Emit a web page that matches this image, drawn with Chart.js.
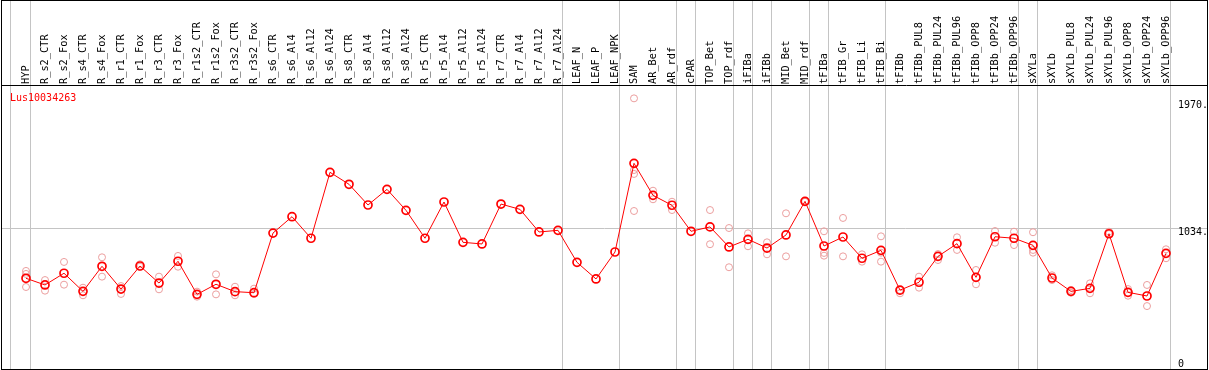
<!DOCTYPE html>
<html>
<head>
<meta charset="utf-8">
<script src="https://cdn.jsdelivr.net/npm/chart.js@4"></script>
<style>
  html, body { margin: 0; padding: 0; background: #ffffff; }
  #frame { position: absolute; left: 1px; top: 0; width: 1207px; height: 370px; box-sizing: border-box; border: 1px solid #000000; background: #ffffff; }
  canvas { display: block; }
</style>
</head>
<body>
<div id="frame"><canvas id="c" width="1205" height="368"></canvas></div>
<script>
const geneName = 'Lus10034263';

const categories = ['HYP','R_s2_CTR','R_s2_Fox','R_s4_CTR','R_s4_Fox','R_r1_CTR','R_r1_Fox','R_r3_CTR','R_r3_Fox',
  'R_r1s2_CTR','R_r1s2_Fox','R_r3s2_CTR','R_r3s2_Fox','R_s6_CTR','R_s6_Al4','R_s6_Al12','R_s6_Al24',
  'R_s8_CTR','R_s8_Al4','R_s8_Al12','R_s8_Al24','R_r5_CTR','R_r5_Al4','R_r5_Al12','R_r5_Al24',
  'R_r7_CTR','R_r7_Al4','R_r7_Al12','R_r7_Al24','LEAF_N','LEAF_P','LEAF_NPK','SAM','AR_Bet','AR_rdf',
  'cPAR','TOP_Bet','TOP_rdf','iFIBa','iFIBb','MID_Bet','MID_rdf','tFIBa','tFIB_Gr','tFIB_Li','tFIB_Bi',
  'tFIBb','tFIBb_PUL8','tFIBb_PUL24','tFIBb_PUL96','tFIBb_OPP8','tFIBb_OPP24','tFIBb_OPP96',
  'sXYLa','sXYLb','sXYLb_PUL8','sXYLb_PUL24','sXYLb_PUL96','sXYLb_OPP8','sXYLb_OPP24','sXYLb_OPP96'];

const meanValues = [666,617,703,570,754,587,756,631,791,548,622,568,560,
  998,1118,960,1444,1356,1204,1319,1165,960,1226,930,918,1211,1172,1006,1018,
  783,661,859,1510,1275,1202,1011,1043,896,952,888,984,1231,903,969,813,871,
  579,637,827,920,673,971,960,908,668,570,592,993,563,536,849];

const replicateValues = [
  [720,698,602],[653,575],[786,619],[597,541],[820,678],[609,551],[769,751],[678,585],[830,751],
  [568,531],[695,548],[604,541],[590,551],
  [],[],[],[],[],[],[],[],[],[],[],[],[],[],[],[],[],[],[],
  [1987,1461,1432,1160],[1309,1246],[1228,1167],[],[1167,916],[1035,747],[996,901],[930,842],
  [1143,827],[1235,1227],[1011,852,832],[1109,827],[842,788],[974,854,788],
  [580,556],[678,597],[844,800],[967,874],[727,622],[1013,927],[1008,910],
  [1004,874,854],[688,653],[580,560],[629,556],[1008,991],[587,538],[617,462],[879,813]
];

// group separators (positions on the category index axis)
const groupBoundaries = [-0.8, 0.25, 28.25, 31.25, 34.25, 35.25, 37.25, 38.25, 39.25, 41.25, 42.25, 45.25, 52.25, 53.25, 60.25];

const yTickValues = [0, 1034, 1970];
const yTickLabels = ['0', '1034.', '1970.'];

const X_MIN = -1.26316, X_MAX = 62.15789;
const Y_MIN = 0, Y_MAX = 2085;
const MONO = '"DejaVu Sans Mono", monospace';

const mainPoints = meanValues.map((v, i) => ({ x: i, y: v }));
const repPoints = [];
replicateValues.forEach((arr, i) => arr.forEach(v => repPoints.push({ x: i, y: v })));

const geneLabelPlugin = {
  id: 'geneLabel',
  afterDraw(chart) {
    const { ctx, chartArea } = chart;
    ctx.save();
    ctx.font = '10px ' + MONO;
    ctx.fillStyle = '#ff0000';
    ctx.textAlign = 'left';
    ctx.textBaseline = 'middle';
    ctx.fillText(geneName, chartArea.left + 8, chartArea.top + 13);
    ctx.restore();
  }
};

function zeroPad(s) { s.paddingLeft = 0; s.paddingRight = 0; s.paddingTop = 0; s.paddingBottom = 0; }

new Chart(document.getElementById('c'), {
  type: 'scatter',
  data: {
    datasets: [
      {
        label: geneName,
        data: mainPoints,
        showLine: true,
        borderColor: '#ff0000',
        borderWidth: 1,
        tension: 0,
        pointRadius: 4,
        pointBorderWidth: 1.7,
        pointBorderColor: '#ff0000',
        pointBackgroundColor: 'rgba(0,0,0,0)',
        order: 0
      },
      {
        label: 'replicates',
        data: repPoints,
        showLine: false,
        pointRadius: 3.5,
        pointBorderWidth: 1,
        pointBorderColor: '#eb9e9e',
        pointBackgroundColor: 'rgba(0,0,0,0)',
        order: 1
      }
    ]
  },
  plugins: [geneLabelPlugin],
  options: {
    responsive: false,
    devicePixelRatio: 1,
    animation: false,
    events: [],
    layout: { padding: 0, autoPadding: false },
    plugins: {
      tooltip: { enabled: false },
      title: { display: false },
      legend: { display: false }
    },
    scales: {
      x: {
        type: 'linear',
        position: 'top',
        weight: 1,
        min: X_MIN,
        max: X_MAX,
        afterBuildTicks: (s) => { s.ticks = categories.map((_, i) => ({ value: i })); },
        afterFit: (s) => { s.height = 84; zeroPad(s); },
        grid: { display: false, drawTicks: false },
        border: { display: true, color: '#000000', width: 1 },
        ticks: {
          autoSkip: false,
          minRotation: 90,
          maxRotation: 90,
          padding: 1,
          labelOffset: 12.5,
          color: '#000000',
          font: { family: MONO, size: 10.3 },
          callback: (v) => categories[v] !== undefined ? categories[v] : ''
        }
      },
      x2: {
        type: 'linear',
        position: 'top',
        weight: 0,
        min: X_MIN,
        max: X_MAX,
        afterBuildTicks: (s) => { s.ticks = groupBoundaries.map(v => ({ value: v })); },
        afterFit: (s) => { s.height = 0; zeroPad(s); },
        grid: { display: true, color: '#c4c4c4', lineWidth: 1, drawTicks: true, tickLength: 84, drawOnChartArea: true },
        border: { display: false },
        ticks: { display: false }
      },
      y: {
        type: 'linear',
        position: 'right',
        min: Y_MIN,
        max: Y_MAX,
        afterBuildTicks: (s) => { s.ticks = yTickValues.map(v => ({ value: v })); },
        afterFit: (s) => { s.width = 0; zeroPad(s); },
        grid: {
          drawTicks: false,
          lineWidth: 1,
          color: (ctx) => (ctx.tick && ctx.tick.value === 1034) ? '#c4c4c4' : 'rgba(0,0,0,0)'
        },
        border: { display: false },
        ticks: {
          mirror: true,
          crossAlign: 'far',
          padding: 1,
          color: '#000000',
          font: { family: MONO, size: 10, lineHeight: '9.4px' },
          callback: (v) => {
            const idx = yTickValues.indexOf(v);
            const lab = idx >= 0 ? yTickLabels[idx] : '';
            return v === 0 ? [lab, ''] : ['', lab];
          }
        }
      }
    }
  }
});
</script>
</body>
</html>
